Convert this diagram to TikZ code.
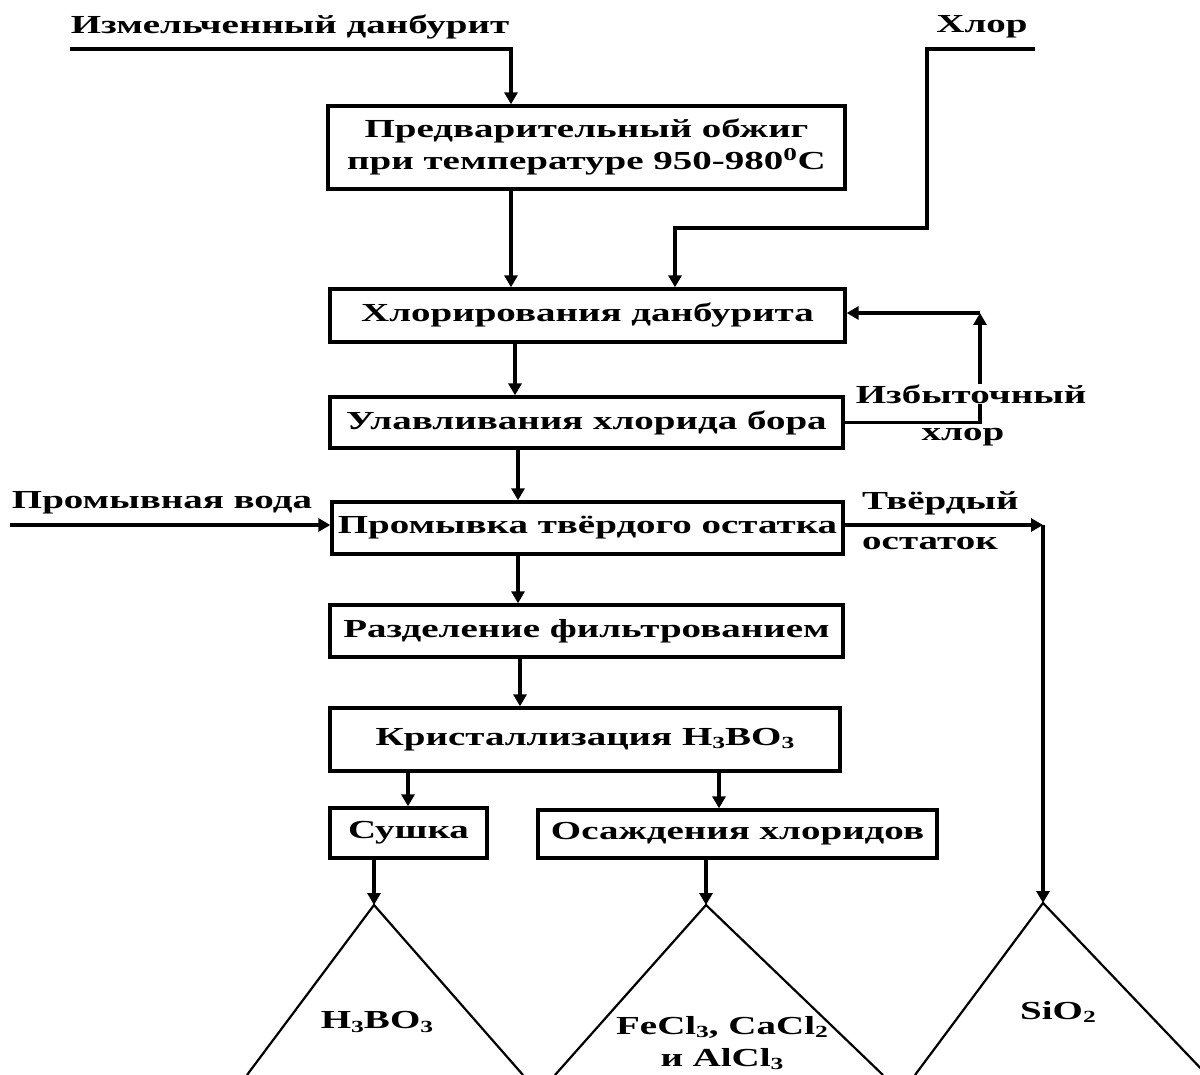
\documentclass[tikz,border=0pt]{standalone}
\usepackage{fontspec}
\setmainfont{Liberation Serif}[FakeStretch=1.5]
\usepackage{tikz}
\usetikzlibrary{arrows.meta, positioning}

% small index digit as in the chemical formulas
\newcommand\lowidx[1]{\raisebox{-0.12em}{\fontsize{17}{17}\selectfont #1}}

\begin{document}
\begin{tikzpicture}[x=1pt, y=-1pt,
    every node/.style={font=\fontsize{26}{32}\selectfont\bfseries, inner sep=0pt},
    stageBox/.style={draw, line width=3.3pt, align=center},
    flowLine/.style={line width=3.4pt, -{Triangle[length=12pt,width=13pt]}},
    plainLine/.style={line width=3.4pt},
    coneLine/.style={line width=2.2pt}]
    \useasboundingbox (0,0) rectangle (1200,1075);

    % process stages
    \node[stageBox, minimum width=517pt, minimum height=83pt] (obzhig) at (586.5,147.5) {Предварительный обжиг\\при температуре 950-980\textsuperscript{0}C};
    \node[stageBox, minimum width=515pt, minimum height=53pt] (chlor) at (587.5,315.5) {Хлорирования данбурита};
    \node[stageBox, minimum width=513pt, minimum height=51pt] (ulav) at (586.5,422.5) {Улавливания хлорида бора};
    \node[stageBox, minimum width=511pt, minimum height=52pt] (promyv) at (587.5,528) {Промывка твёрдого остатка};
    \node[stageBox, minimum width=513pt, minimum height=52pt] (razdel) at (586.5,631) {Разделение фильтрованием};
    \node[stageBox, minimum width=510pt, minimum height=63pt] (krist) at (585,739.5) {Кристаллизация H\lowidx{3}BO\lowidx{3}};
    \node[stageBox, minimum width=157pt, minimum height=50pt] (sushka) at (408.5,833) {Сушка};
    \node[stageBox, minimum width=399pt, minimum height=48pt] (osazh) at (737.5,834) {Осаждения хлоридов};

    % stream labels
    \node (danb) at (290,27) {Измельченный данбурит};
    \node (hlor) at (982,27) {Хлор};
    \node (izb) at (971,394) {Избыточный};
    \node (izbHlor) at (963,437) {хлор};
    \node (voda) at (162,503) {Промывная вода};
    \node[anchor=west] (tverd) at (862,503) {Твёрдый};
    \node[anchor=west] (ostat) at (862,543) {остаток};

    \coordinate (danbIn) at (70,49);
    \coordinate (hlorIn) at (1035,49);
    \coordinate (hlorBend) at (927,228);
    \coordinate (hlorCol) at (675,0);
    \coordinate (retTop) at (980,313);
    \coordinate (vodaIn) at (10,525);
    \coordinate (ostCorner) at (1043,525);
    \coordinate (coneA) at (374,905);
    \coordinate (coneB) at (706,905);
    \coordinate (coneC) at (1043,903);

    % main flow
    \foreach \a/\b/\x in {obzhig/chlor/511, chlor/ulav/515, ulav/promyv/518, promyv/razdel/518, razdel/krist/520, krist/sushka/408, krist/osazh/719}
        \draw[flowLine] (\a.south -| \x,0) -- (\b.north -| \x,0);

    \draw[flowLine] (danbIn) -| (obzhig.north -| 511,0);
    \draw[flowLine] (hlorIn) -| (hlorBend) -| (chlor.north -| hlorCol);

    % excess chlorine back to chlorination
    \draw[plainLine] (ulav.east) -| (izb.south -| retTop);
    \draw[flowLine] (izb.north -| retTop) -- (retTop);
    \draw[flowLine] (retTop) -- (chlor.east |- retTop);

    \draw[flowLine] (vodaIn) -- (promyv.west |- vodaIn);
    \draw[flowLine] (promyv.east |- vodaIn) -- (ostCorner);
    \draw[flowLine] (ostCorner) -- (coneC);

    \draw[flowLine] (sushka.south -| coneA) -- (coneA);
    \draw[flowLine] (osazh.south -| coneB) -- (coneB);

    % product heaps
    \draw[coneLine] (247,1075) -- (coneA) -- (523,1075);
    \draw[coneLine] (555,1075) -- (coneB) -- (883,1075);
    \draw[coneLine] (915,1075) -- (coneC) -- (1207,1075);

    \node (prodA) at (377,1022) {H\lowidx{3}BO\lowidx{3}};
    \node[align=center] (prodB) at (722,1043) {FeCl\lowidx{3}, CaCl\lowidx{2}\\и AlCl\lowidx{3}};
    \node (prodC) at (1058,1012) {SiO\lowidx{2}};
\end{tikzpicture}
\end{document}
